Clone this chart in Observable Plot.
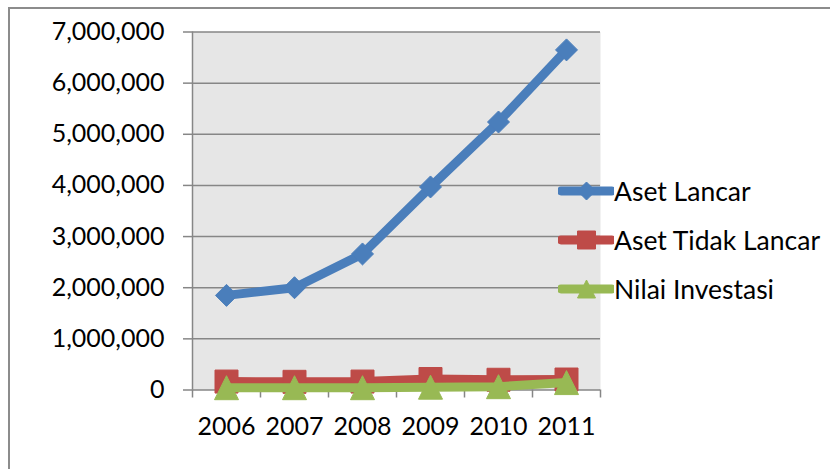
<!DOCTYPE html>
<html>
<head>
<meta charset="utf-8">
<script src="https://cdn.jsdelivr.net/npm/d3@7"></script>
<script src="https://cdn.jsdelivr.net/npm/@observablehq/plot@0.6"></script>
<style>
  html, body { margin: 0; padding: 0; background: #fff; }
  #wrap { position: relative; width: 830px; height: 469px; overflow: hidden; font-family: Lato, "Open Sans", sans-serif; }
  #border { position: absolute; left: 8px; top: 7px; width: 900px; height: 600px;
            border-top: 2px solid #8c8c8c; border-left: 2px solid #8c8c8c; box-sizing: border-box; }
  #chart { position: absolute; left: 0; top: 0; }
  #legend { position: absolute; left: 558px; top: 167px; }
  .row { display: flex; align-items: center; height: 48.8px; font-size: 26.5px; color: #000; white-space: nowrap; }
  .row svg { display: block; }
</style>
</head>
<body>
<div id="wrap">
  <div id="border"></div>
  <div id="chart"></div>
  <div id="legend"></div>
</div>
<script>
// Years on the horizontal axis
const years = [2006, 2007, 2008, 2009, 2010, 2011];

// Series values (Rupiah, thousands)
const asetLancar      = [1850000, 2000000, 2660000, 3970000, 5240000, 6650000];
const asetTidakLancar = [165000, 160000, 165000, 215000, 200000, 205000];
const nilaiInvestasi  = [45000, 45000, 45000, 55000, 65000, 145000];

const seriesNames  = ["Aset Lancar", "Aset Tidak Lancar", "Nilai Investasi"];
const seriesValues = [asetLancar, asetTidakLancar, nilaiInvestasi];
const seriesColors = ["#4a7ebb", "#be4b48", "#98b954"];

// Vertical axis ticks
const yTicks = [0, 1000000, 2000000, 3000000, 4000000, 5000000, 6000000, 7000000];

// Category boundaries for the x tick marks
const xBounds = [years[0] - 0.5, ...years.map(y => y + 0.5)];

// Marker shapes centred on their bounding box
const half = size => Math.sqrt(size / Math.PI);
const diamond = { draw(ctx, size) { const r = half(size);
  ctx.moveTo(0, -r); ctx.lineTo(r, 0); ctx.lineTo(0, r); ctx.lineTo(-r, 0); ctx.closePath(); } };
const square = { draw(ctx, size) { const r = half(size);
  ctx.moveTo(-r, -r); ctx.lineTo(r, -r); ctx.lineTo(r, r); ctx.lineTo(-r, r); ctx.closePath(); } };
const triangle = { draw(ctx, size) { const r = half(size);
  ctx.moveTo(0, -r); ctx.lineTo(r, r); ctx.lineTo(-r, r); ctx.closePath(); } };
const symbols = [diamond, square, triangle];
const markerR = [11, 11.5, 12];

const rows = seriesNames.map((name, s) =>
  years.map((year, i) => ({ series: name, year, value: seriesValues[s][i] })));

const fmt = d3.format(",");
const gridColor = "#868686";

const marks = [
  Plot.frame({ fill: "#e6e6e6", stroke: null }),
  Plot.gridY(yTicks, { stroke: gridColor, strokeOpacity: 1, strokeWidth: 1.5 }),
  Plot.ruleX([xBounds[0]], { stroke: gridColor, strokeWidth: 1.5 }),
  Plot.axisY(yTicks, { tickSize: 9, tickPadding: 19, tickFormat: fmt, stroke: gridColor, strokeWidth: 1.5,
                       fill: "#000", fontSize: 25, label: null }),
  Plot.axisX(xBounds, { tickSize: 8, tickFormat: () => "", stroke: gridColor, strokeWidth: 1.5, label: null }),
  Plot.axisX(years, { tickSize: 0, tickPadding: 27, tickFormat: d => String(d), fill: "#000", fontSize: 25, label: null })
];

rows.forEach((data, s) => {
  marks.push(Plot.line(data, { x: "year", y: "value", stroke: seriesColors[s], strokeWidth: 9,
                               strokeLinecap: "round", strokeLinejoin: "round" }));
  marks.push(Plot.dot(data, { x: "year", y: "value", symbol: symbols[s], r: markerR[s],
                              fill: seriesColors[s], stroke: seriesColors[s], strokeWidth: 1 }));
});

const chart = Plot.plot({
  width: 830,
  height: 469,
  marginLeft: 192,
  marginRight: 230,
  marginTop: 31.5,
  marginBottom: 79.5,
  style: { fontFamily: "Lato, 'Open Sans', sans-serif", background: "transparent", color: "#000" },
  x: { type: "linear", domain: [xBounds[0], xBounds[xBounds.length - 1]], axis: null },
  y: { domain: [0, 7000000], axis: null },
  marks
});
document.getElementById("chart").appendChild(chart);

// Legend on the right
const legend = d3.select("#legend");
seriesNames.forEach((name, s) => {
  const row = legend.append("div").attr("class", "row");
  const svg = row.append("svg").attr("width", 56).attr("height", 26);
  svg.append("line").attr("x1", 3).attr("x2", 54).attr("y1", 13).attr("y2", 13)
    .attr("stroke", seriesColors[s]).attr("stroke-width", 9).attr("stroke-linecap", "round");
  const r = 9;
  const path = d3.path();
  symbols[s].draw(path, r * r * Math.PI);
  svg.append("path").attr("d", path.toString()).attr("transform", "translate(28.5,13)")
    .attr("fill", seriesColors[s]).attr("stroke", seriesColors[s]);
  row.append("span").text(name);
});
</script>
</body>
</html>
